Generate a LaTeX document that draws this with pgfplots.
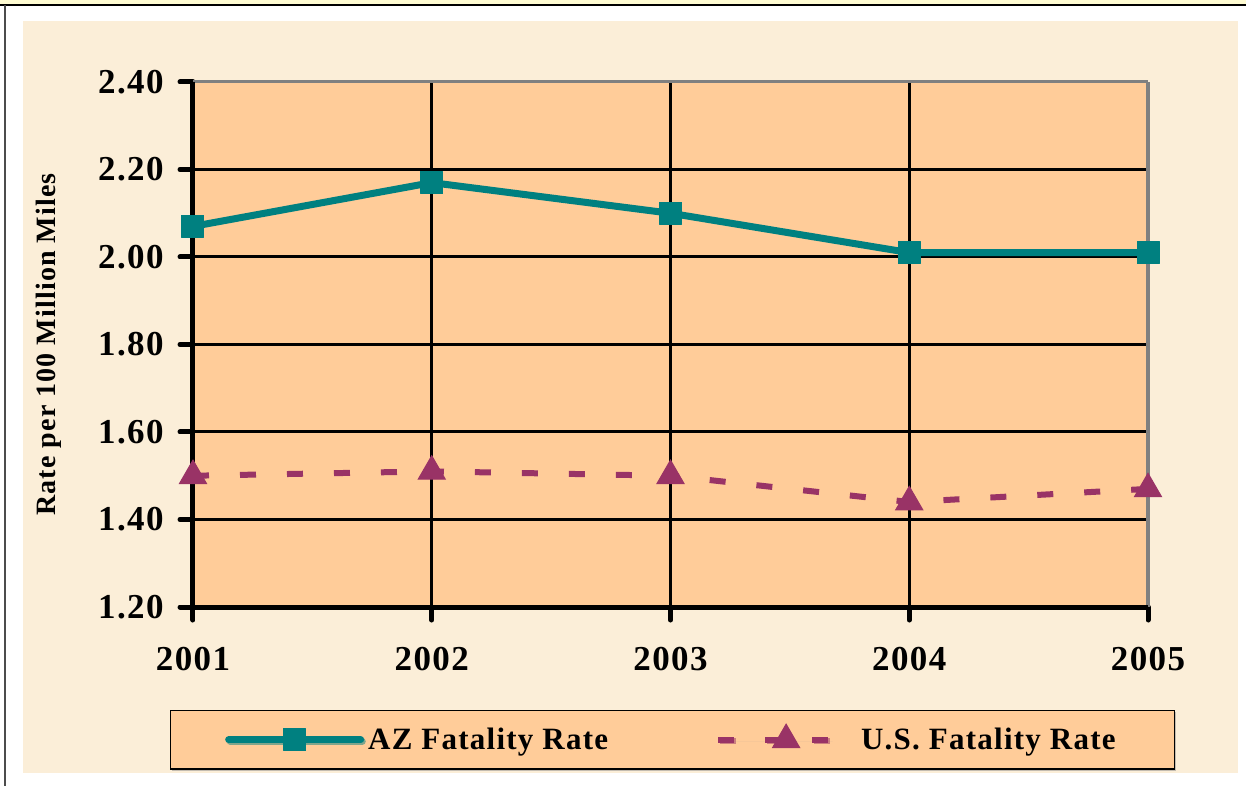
\documentclass[border=0pt]{standalone}
\usepackage{fontspec}
\setmainfont{Liberation Serif}[LetterSpace=4]
\usepackage{pgfplots}
\pgfplotsset{compat=1.18}
\usetikzlibrary{shadows}
\definecolor{peach}{RGB}{255,204,153}
\definecolor{azteal}{RGB}{0,128,128}
\definecolor{usplum}{RGB}{153,51,102}
\definecolor{beige}{RGB}{251,238,216}
\definecolor{topyellow}{RGB}{255,252,210}
\definecolor{bordergray}{RGB}{128,128,128}
\pgfplotsset{
  azlegend/.style={legend image code/.code={\draw[mark repeat=2, mark phase=2, ##1] plot coordinates {(0pt,0pt) (33pt,0pt) (66pt,0pt)};}},
  uslegend/.style={legend image code/.code={\draw[##1, mark=none] (0pt,0pt) -- (56.5pt,0pt); \draw[##1] plot[only marks] coordinates {(34pt,0pt)}; \path (68pt,0pt);}},
}
\begin{document}
\begin{tikzpicture}
\useasboundingbox (-96.5pt,-89.5pt) rectangle (526.5pt,303.5pt);
\fill[white] (-96.5pt,-89.5pt) rectangle (526.5pt,303.5pt);
\fill[topyellow] (-96.5pt,301pt) rectangle (526.5pt,303.5pt);
\draw[black, line width=1pt] (-96.5pt,301pt) -- (526.5pt,301pt);
\draw[black!70, line width=0.8pt] (-94pt,301pt) -- (-94pt,-89.5pt);
\fill[beige] (-85.2pt,-83pt) rectangle (522.5pt,293.2pt);
\begin{axis}[
  scale only axis, width=477.5pt, height=262.5pt,
  at={(0,0)}, anchor=south west,
  xmin=2001, xmax=2005, ymin=1.2, ymax=2.4,
  xtick={2001,2002,2003,2004,2005},
  ytick={1.2,1.4,1.6,1.8,2.0,2.2,2.4},
  axis background/.style={fill=peach},
  axis line style={draw=none},
  grid=major, major grid style={black, line width=1.5pt},
  tick pos=left, tick align=outside, major tick length=6.5pt,
  tick style={black, line width=2.5pt, line cap=round},
  /pgf/number format/assume math mode=true,
  ticklabel style={font=\bfseries\fontsize{17.5}{17.5}\selectfont},
  yticklabel style={/pgf/number format/fixed, /pgf/number format/fixed zerofill, /pgf/number format/precision=2, anchor=east, inner sep=0pt},
  xticklabel style={/pgf/number format/1000 sep={}, anchor=north, inner sep=0pt},
  yticklabel shift=8pt,
  xticklabel shift=13.5pt,
  ylabel={Rate per 100 Million Miles},
  every axis y label/.style={at={(rel axis cs:0,0.5)}, xshift=-72pt, rotate=90, anchor=center, font=\bfseries\fontsize{14}{14}\selectfont},
  clip=false,
  legend columns=2,
  legend style={at={(rel axis cs:0.502,-0.196)}, anchor=north, fill=peach, draw=black, line width=0.6pt,
    drop shadow={shadow xshift=0.8pt, shadow yshift=-0.8pt, fill=black!45},
    font=\bfseries\fontsize{15.5}{15.5}\selectfont,
    inner xsep=27.5pt, inner ysep=6.5pt,
    /tikz/every even column/.append style={column sep=51.5pt}},
]
\draw[bordergray, line width=1.5pt] (rel axis cs:0,1) -- (rel axis cs:1,1);
\draw[bordergray, line width=2.2pt] (rel axis cs:1,1) -- (rel axis cs:1,0);
\draw[black, line width=2.5pt] (rel axis cs:0,1) -- (rel axis cs:0,0) -- (rel axis cs:1,0);
\addplot[azteal, line width=3.5pt, line join=round, line cap=round, mark=square*, mark size=5.5pt, mark options={solid, fill=azteal, line width=0.5pt}, azlegend]
  coordinates {(2001,2.07) (2002,2.17) (2003,2.10) (2004,2.01) (2005,2.01)};
\addlegendentry{AZ Fatality Rate}
\addplot[usplum, line width=3pt, dash pattern=on 8pt off 15.5pt, mark=triangle*, mark size=7.8pt, mark options={solid, fill=usplum, line width=0.5pt}, uslegend]
  coordinates {(2001,1.50) (2002,1.51) (2003,1.50) (2004,1.44) (2005,1.47)};
\addlegendentry{U.S. Fatality Rate}
\end{axis}
\end{tikzpicture}
\end{document}
